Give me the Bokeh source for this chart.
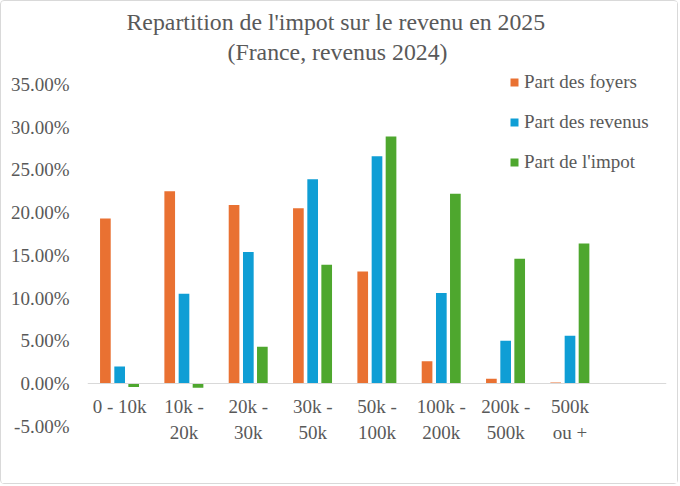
from bokeh.plotting import figure
from bokeh.models import (FactorRange, Range1d, FixedTicker, Legend, LegendItem,
                          Title, ColumnDataSource, PrintfTickFormatter)
from bokeh.transform import dodge
from bokeh.embed import file_html
from bokeh.resources import INLINE

# ---- data ----
categories = ["0 - 10k", "10k -\n20k", "20k -\n30k", "30k -\n50k", "50k -\n100k",
              "100k -\n200k", "200k -\n500k", "500k\nou +"]
extra_category = [" "]
part_foyers = [19.3, 22.5, 20.9, 20.5, 13.1, 2.6, 0.55, 0.12]
part_revenus = [2.0, 10.5, 15.4, 23.9, 26.6, 10.6, 5.0, 5.6]
part_impot = [-0.4, -0.5, 4.3, 13.9, 28.9, 22.2, 14.6, 16.4]
series_names = ["Part des foyers", "Part des revenus", "Part de l'impot"]
y_ticks = [-5, 0, 5, 10, 15, 20, 25, 30, 35]
title_line1 = "Repartition de l'impot sur le revenu en 2025"
title_line2 = "(France, revenus 2024)"

colors = ["#E97132", "#0F9ED5", "#4EA72E"]
FONT = "Liberation Serif"
TXT = "#595959"

source = ColumnDataSource(dict(cat=categories, foyers=part_foyers,
                               revenus=part_revenus, impot=part_impot))

p = figure(width=678, height=484, output_backend="svg", toolbar_location=None,
           x_range=FactorRange(factors=categories + extra_category, range_padding=0),
           y_range=Range1d(-8.43, 37.107), title=None,
           min_border_left=86, min_border_right=13, min_border_top=65, min_border_bottom=30)
p.styles = {"border": "1px solid #D9D9D9", "border-radius": "4px"}

w = 0.166
r1 = p.vbar(x=dodge("cat", -0.222, range=p.x_range), top="foyers", width=w, source=source,
            fill_color=colors[0], line_color=None)
r2 = p.vbar(x=dodge("cat", 0.0, range=p.x_range), top="revenus", width=w, source=source,
            fill_color=colors[1], line_color=None)
r3 = p.vbar(x=dodge("cat", 0.218, range=p.x_range), top="impot", width=w, source=source,
            fill_color=colors[2], line_color=None)

p.xgrid.grid_line_color = None
p.ygrid.grid_line_color = None
p.outline_line_color = None
p.background_fill_color = "white"
p.border_fill_color = "white"

# y axis
p.yaxis.ticker = FixedTicker(ticks=y_ticks)
p.yaxis.formatter = PrintfTickFormatter(format="%.2f%%")
p.yaxis.axis_line_color = None
p.yaxis.major_tick_line_color = None
p.yaxis.minor_tick_line_color = None
p.yaxis.major_tick_out = 0
p.yaxis.major_tick_in = 0
p.yaxis.major_label_standoff = 18
p.yaxis.major_label_text_font = FONT
p.yaxis.major_label_text_font_size = "19px"
p.yaxis.major_label_text_color = TXT

# x axis at zero
p.xaxis.fixed_location = 0
p.xaxis.axis_line_color = "#D9D9D9"
p.xaxis.axis_line_width = 1
p.xaxis.major_tick_line_color = None
p.xaxis.minor_tick_line_color = None
p.xaxis.major_tick_out = 0
p.xaxis.major_tick_in = 0
p.xaxis.major_label_standoff = 13
p.xaxis.major_label_text_font = FONT
p.xaxis.major_label_text_font_size = "19px"
p.xaxis.major_label_text_color = TXT

# titles
t2 = Title(text=title_line2, align="left", offset=140, standoff=4,
           text_font=FONT, text_font_size="23.8px", text_font_style="normal", text_color=TXT)
t1 = Title(text=title_line1, align="left", offset=39, standoff=0,
           text_font=FONT, text_font_size="23.8px", text_font_style="normal", text_color=TXT)
p.add_layout(t2, "above")
p.add_layout(t1, "above")

legend = Legend(items=[LegendItem(label=series_names[0], renderers=[r1]),
                       LegendItem(label=series_names[1], renderers=[r2]),
                       LegendItem(label=series_names[2], renderers=[r3])],
                location=(422, 282), padding=0, margin=0, spacing=18,
                glyph_width=10, glyph_height=10, label_height=20, label_standoff=5,
                label_text_font=FONT, label_text_font_size="19px", label_text_color=TXT,
                background_fill_alpha=0, border_line_color=None)
p.add_layout(legend, "center")

open("out.html", "w").write(file_html(p, INLINE))
